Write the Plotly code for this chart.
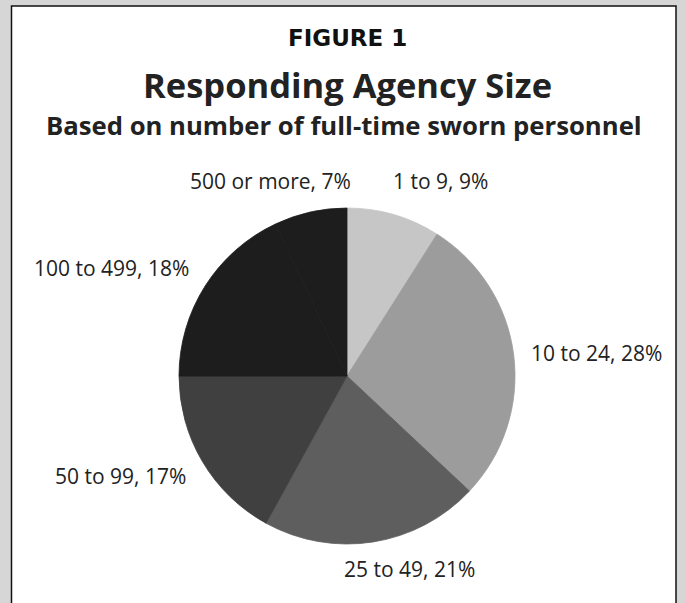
import plotly.graph_objects as go

categories = ["1 to 9", "10 to 24", "25 to 49", "50 to 99", "100 to 499", "500 or more"]
percents = [9, 28, 21, 17, 18, 7]
colors = ["#c6c6c6", "#9c9c9c", "#5e5e5e", "#404040", "#1d1d1d", "#1d1d1d"]

W, H = 686, 603
cx, cy, r = 347, 376, 168

fig = go.Figure(go.Pie(
    labels=categories,
    values=percents,
    sort=False,
    direction="clockwise",
    rotation=0,
    textinfo="none",
    hoverinfo="label+percent",
    marker=dict(colors=colors, line=dict(width=0.8, color=colors)),
    domain=dict(x=[(cx - r) / W, (cx + r) / W], y=[(H - cy - r) / H, (H - cy + r) / H]),
    showlegend=False,
))

# label centre positions (pixel) for each category
label_pos = [(440, 181), (596, 353), (409, 569), (120, 476), (112, 268), (270, 181)]
for cat, pct, (lx, ly) in zip(categories, percents, label_pos):
    fig.add_annotation(x=lx / W, y=1 - ly / H, xref="paper", yref="paper",
                       xanchor="center", yanchor="middle",
                       text=f"{cat}, {pct}%", showarrow=False,
                       font=dict(family="Open Sans", size=21, color="#222222"))

fig.add_annotation(x=347 / W, y=1 - 38.5 / H, xref="paper", yref="paper", text="<b>FIGURE 1</b>",
                   xanchor="center", yanchor="middle",
                   showarrow=False, font=dict(family="DejaVu Sans", size=23, color="#111111"))
fig.add_annotation(x=347 / W, y=1 - 84 / H, xref="paper", yref="paper", text="<b>Responding Agency Size</b>",
                   xanchor="center", yanchor="middle",
                   showarrow=False, font=dict(family="Open Sans", size=34.5, color="#222222"))
fig.add_annotation(x=344 / W, y=1 - 125.5 / H, xref="paper", yref="paper",
                   text="<b>Based on number of full-time sworn personnel</b>",
                   xanchor="center", yanchor="middle",
                   showarrow=False, font=dict(family="Open Sans", size=25.7, color="#222222"))

fig.update_layout(
    width=W, height=H,
    margin=dict(l=0, r=0, t=0, b=0),
    paper_bgcolor="#d6d6d6",
    plot_bgcolor="#d6d6d6",
    shapes=[dict(type="rect", xref="paper", yref="paper", layer="below",
                 x0=11.5 / W, x1=676 / W, y0=-0.02, y1=1 - 6 / H,
                 fillcolor="white", line=dict(color="#111111", width=1.5))],
)

fig.write_html("out.html", config={"displayModeBar": False},
               post_script="document.body.style.margin='0';")
